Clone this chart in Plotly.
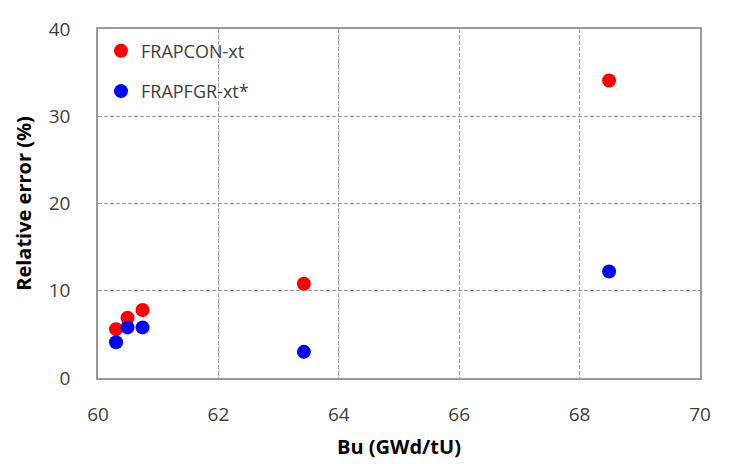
import plotly.graph_objects as go

bu = [60.30, 60.49, 60.74, 63.42, 68.49]
frapcon_xt = [5.6, 6.9, 7.8, 10.8, 34.1]
frapfgr_xt = [4.1, 5.8, 5.8, 3.0, 12.2]

x_ticks = [60, 62, 64, 66, 68, 70]
y_ticks = [0, 10, 20, 30, 40]

FONT = "Open Sans"
grid = "#999999"

fig = go.Figure()
fig.add_trace(go.Scatter(x=bu, y=frapcon_xt, mode="markers", name="FRAPCON-xt",
                         legendgroup="a",
                         marker=dict(color="#ff0000", size=14, line=dict(width=0))))
fig.add_trace(go.Scatter(x=bu, y=frapfgr_xt, mode="markers", name="FRAPFGR-xt*",
                         legendgroup="b",
                         marker=dict(color="#0000ff", size=14, line=dict(width=0))))

fig.update_layout(
    width=733, height=464,
    margin=dict(l=98, r=33, t=29, b=86),
    paper_bgcolor="white", plot_bgcolor="white",
    font=dict(family=FONT, size=18, color="#404040"),
    legend=dict(x=0.005, y=0.99, xanchor="left", yanchor="top",
                bgcolor="rgba(0,0,0,0)", tracegroupgap=14,
                font=dict(family=FONT, size=18, color="#404040")),
    xaxis=dict(range=[60, 70], tickvals=x_ticks, showgrid=True, gridcolor=grid,
               griddash="4px,2px", gridwidth=1, showline=True, linecolor=grid,
               linewidth=1.5, mirror=True, zeroline=False, ticks="",
               ticklabelstandoff=18, automargin=False,
               tickfont=dict(size=19),
               title=dict(text="<b>Bu (GWd/tU)</b>", font=dict(size=20, color="#000000"),
                          standoff=14)),
    yaxis=dict(range=[0, 40], tickvals=y_ticks, showgrid=True, gridcolor=grid,
               griddash="4px,2px", gridwidth=1, showline=True, linecolor=grid,
               linewidth=1.5, mirror=True, zeroline=False, ticks="",
               ticklabelstandoff=22, automargin=False,
               tickfont=dict(size=19),
               title=dict(text="<b>Relative error (%)</b>", font=dict(size=20, color="#000000"),
                          standoff=12)),
)

fig.write_html("out.html")
